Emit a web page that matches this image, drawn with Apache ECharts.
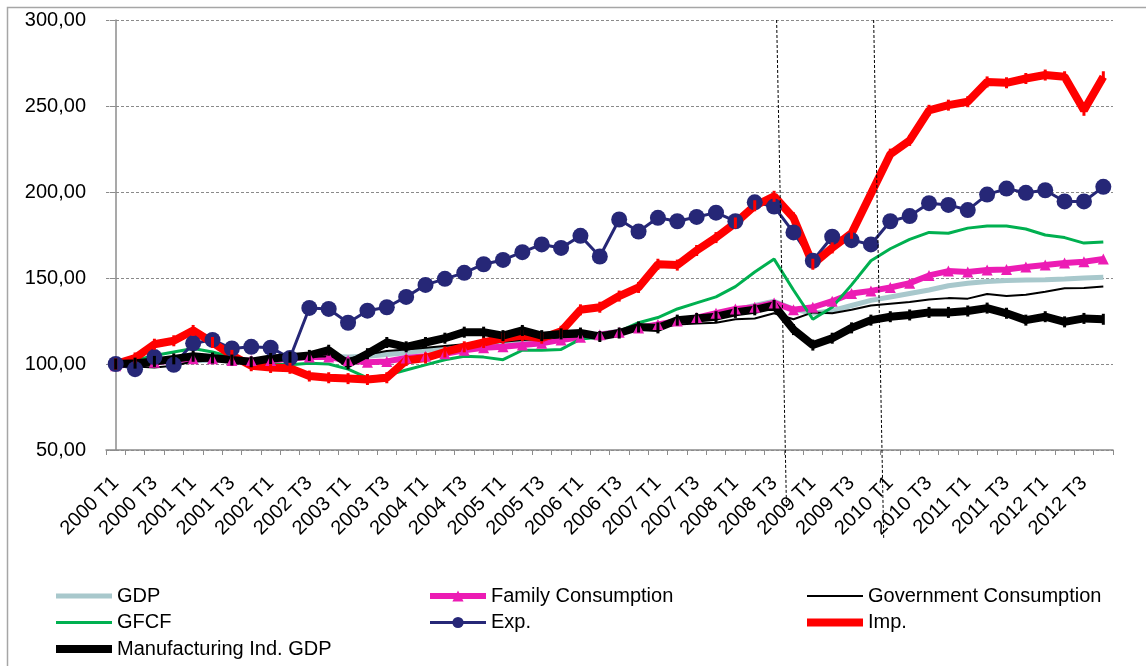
<!DOCTYPE html>
<html>
<head>
<meta charset="utf-8">
<script src="https://cdn.jsdelivr.net/npm/echarts@6/dist/echarts.min.js"></script>
<style>
html,body{margin:0;padding:0;background:#fff;}
#chart{width:1146px;height:666px;}
</style>
</head>
<body>
<div id="chart"></div>
<script>
// Quarterly categories 2000 T1 .. 2012 T4
const years = [2000,2001,2002,2003,2004,2005,2006,2007,2008,2009,2010,2011,2012];
const quarters = ['T1','T2','T3','T4'];
const categories = [];
years.forEach(y => quarters.forEach(q => categories.push(y + ' ' + q)));

const gdp = [100,100.5,101,101.5,102,102,102,102,102.5,103,104,104.5,104,104.5,105.5,106.5,108,109,110,111,111.5,112.5,113.5,114.5,116,117.5,119,121,123,125,127,129,131.5,134,136.5,132,129.5,131,134,137,139,141,143,145.5,147,148,148.5,148.8,149,149.4,150,150.5];
const familyConsumption = [99,100,101,102,103,103,102,102,102,103,104,104,102,101,101.5,103.5,104.5,106,108,109.5,110,111,112,114,115.5,117,118.5,121,123,125,127,129.5,132,133,135.5,131.5,133,136.5,141,142.5,144.5,147,151.5,154,153.5,154.7,155,156.4,157.6,158.7,159.5,161];
const governmentConsumption = [100,98.5,98,99,101.5,102,102,102,102.5,103.5,104,104.5,103,105.5,107.5,108.5,109.5,110.5,111.5,112,113,114,114.5,115.5,116,117,118,119.5,121,123,123.5,124,126,126.5,129.5,126,130,129.5,131.5,134,135,136,137.5,138.3,138,140.7,139.5,140.2,142,144,144.2,145];
const gfcf = [100,102,105,107,109,107,104,101,100,99.5,100.5,100,97,92,93.5,96.5,99.5,102.5,104.5,104,102.5,108,108,108.5,114.5,115.5,119,124,127,132,135.5,139,145,153.5,161,143,126,133,146,160,167,172.5,176.5,176,179,180.2,180.2,178.5,175,173.5,170.3,171];
const exportsIdx = [100,97,104,99.5,112,114,109,110,109.5,103.5,132.6,132,124,131,133,139,146,149.5,153,158,160.5,165,169.5,167.5,174.5,162.5,184,177,185,183,185.5,188,183,194,191.5,176.5,160,174,172,169.5,183,186,193.5,192.5,189.5,198.5,202,199.5,201,194.5,194.5,203];
const importsIdx = [100,103.5,111.5,113.5,119.5,112.5,105,99,98,97.5,93,92,91.5,91,92,102,103.5,107,110,112.5,115,116.5,115,119,131.5,133,139.5,144.5,158,157.5,166,173.5,182,192,197.5,185,158,167.5,176,199,222,230,247.5,250.5,252.5,264,263.5,266,268,267,247.5,267];
const manufacturing = [100,100.5,101.5,103,104.5,103.5,102.3,101.3,103.2,104,105,108,100,106,112.5,110,112.5,115,118.5,118.5,116.5,119.5,116.5,117.5,118,116,118,121.5,121,125.5,126.5,127.5,130,131.5,134,120,111,115,121,125.5,127.5,128.5,130,130,130.8,132.5,129.5,125.5,127.5,124.5,126.5,126];

// annotation dashed lines (x in category-index units, y in index value)
const divider1 = [[34.13,300],[34.64,16]];
const divider2 = [[39.14,300],[39.66,-2]];

const yTicks = {min:50, max:300, interval:50};

const FONT = "'Liberation Sans', Arial, sans-serif";
const chart = echarts.init(document.getElementById('chart'), null, {renderer:'canvas'});

function lineSeries(name, data, color, width, symbol, symbolSize) {
  return {
    name, type:'line', data,
    xAxisIndex:0, yAxisIndex:0,
    lineStyle:{color, width},
    itemStyle:{color},
    symbol: symbol || 'none',
    symbolSize: symbolSize || 0,
    showAllSymbol:true,
    silent:true,
    animation:false
  };
}

const hiddenMarker = {opacity:0};
const legendText = {fontSize:20, lineHeight:20, color:'#000', fontFamily:FONT};
const legendBase = {orient:'vertical', top:586, height:80, itemGap:6.5, itemWidth:56, itemHeight:14,
  padding:0, textStyle:legendText, selectedMode:false, lineStyle:{width:'inherit'}};

const option = {
  animation:false,
  backgroundColor:'#fff',
  textStyle:{fontFamily:FONT},
  graphic:[{
    type:'rect', z:-10, silent:true,
    shape:{x:7.5, y:7.5, width:1300, height:800},
    style:{fill:'none', stroke:'#a6a6a6', lineWidth:1.5}
  }],
  legend:[
    Object.assign({left:52, data:[
      {name:'GDP', itemStyle:hiddenMarker},
      {name:'GFCF', itemStyle:hiddenMarker},
      {name:'Manufacturing Ind. GDP', itemStyle:hiddenMarker}
    ]}, legendBase),
    Object.assign({left:427, data:[
      {name:'Family Consumption'},
      {name:'Exp.'}
    ]}, legendBase),
    Object.assign({left:803, data:[
      {name:'Government Consumption', itemStyle:hiddenMarker},
      {name:'Imp.', itemStyle:hiddenMarker}
    ]}, legendBase)
  ],
  grid:{left:106, right:33, top:20, bottom:216, containLabel:false},
  xAxis:[{
    type:'category', data:categories, boundaryGap:true,
    axisLine:{lineStyle:{color:'#8c8c8c', width:1.5}},
    axisTick:{show:true, interval:0, alignWithLabel:false, length:5, lineStyle:{color:'#8c8c8c', width:1}},
    axisLabel:{interval:1, rotate:45, margin:30, fontSize:20, color:'#000', fontFamily:FONT},
    splitLine:{show:false}
  },{
    type:'value', min:-0.5, max:51.5, show:false, gridIndex:0
  }],
  yAxis:{
    type:'value', min:yTicks.min, max:yTicks.max, interval:yTicks.interval,
    axisLine:{show:true, lineStyle:{color:'#8c8c8c', width:1.5}},
    axisTick:{show:true, length:6, lineStyle:{color:'#8c8c8c'}},
    axisLabel:{fontSize:20, color:'#000', fontFamily:FONT, margin:20,
      formatter:v => v.toFixed(2).replace('.', ',')},
    splitLine:{show:true, lineStyle:{color:'#8a8a8a', width:1, type:[3,2]}}
  },
  series:[
    lineSeries('GDP', gdp, '#a8c8cc', 5),
    lineSeries('Family Consumption', familyConsumption, '#ec1cb4', 6, 'triangle', 11),
    lineSeries('Government Consumption', governmentConsumption, '#000000', 2),
    lineSeries('GFCF', gfcf, '#00b050', 3),
    lineSeries('Exp.', exportsIdx, '#262777', 3, 'circle', 16),
    lineSeries('Imp.', importsIdx, '#ff0000', 8, 'rect', [3,11]),
    lineSeries('Manufacturing Ind. GDP', manufacturing, '#000000', 8, 'rect', [3,11]),
    {
      type:'line', xAxisIndex:1, yAxisIndex:0, data:divider1, symbol:'none', clip:false, silent:true,
      lineStyle:{color:'#000', width:1, type:[3,2]}, z:5
    },
    {
      type:'line', xAxisIndex:1, yAxisIndex:0, data:divider2, symbol:'none', clip:false, silent:true,
      lineStyle:{color:'#000', width:1, type:[3,2]}, z:5
    }
  ]
};
chart.setOption(option);
</script>
</body>
</html>
